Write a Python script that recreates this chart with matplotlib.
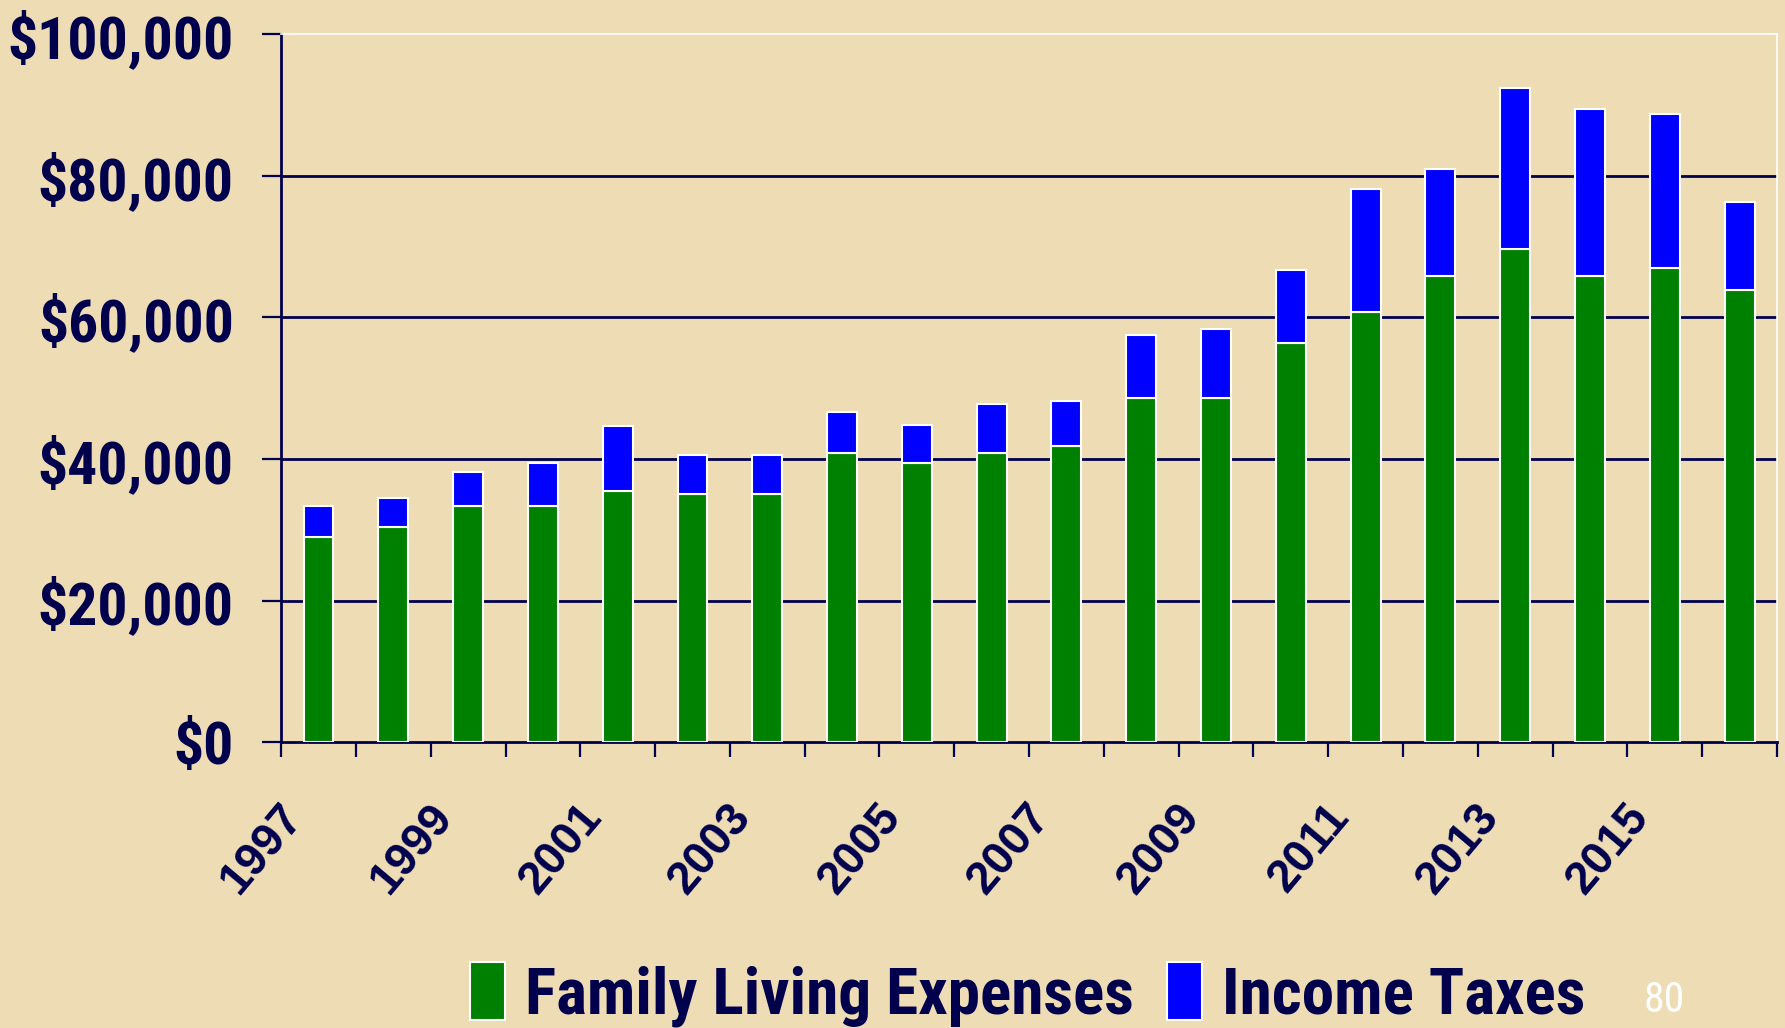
import matplotlib
matplotlib.use("Agg")
import matplotlib.pyplot as plt
import matplotlib.transforms as mtransforms
from matplotlib import font_manager
from matplotlib.patches import Patch
from matplotlib.ticker import FuncFormatter, FixedLocator, NullFormatter

# yearly household figures, dollars
years = list(range(1997, 2017))
living = [29000, 30400, 33300, 33300, 35500, 35100, 35100, 40900, 39400, 40900,
          41900, 48600, 48600, 56400, 60800, 65900, 69600, 65900, 67000, 63800]
totals = [33400, 34500, 38200, 39500, 44700, 40600, 40600, 46600, 44800, 47800,
          48200, 57500, 58300, 66700, 78100, 81000, 92400, 89400, 88700, 76300]
taxes = [t - f for t, f in zip(totals, living)]
year_labels = [str(y) for y in years[::2]]
y_ticks = list(range(0, 100001, 20000))

NAVY = "#00004d"
BG = "#eedcb4"
GREEN = "#008000"
BLUE = "#0000ff"


def bold_narrow():
    # first condensed family that ships a real bold face
    faces = font_manager.fontManager.ttflist
    for fam in ("Liberation Sans Narrow", "Roboto Condensed", "Archivo Narrow",
                "PT Sans Narrow", "Fira Sans Condensed", "Barlow Condensed"):
        if any(f.name == fam and f.weight in (700, "bold") for f in faces):
            return fam
    return "Liberation Sans"


NARROW = bold_narrow()

fig = plt.figure(figsize=(17.85, 10.28), dpi=100, facecolor=BG)
ax = fig.add_axes([0.1575, 0.278, 0.8380, 0.6888])
ax.set_facecolor(BG)

x = list(range(len(years)))
ax.bar(x, living, width=0.40, color=GREEN, edgecolor="white", linewidth=1.5,
       zorder=3, label="Family Living Expenses")
ax.bar(x, taxes, width=0.40, bottom=living, color=BLUE, edgecolor="white",
       linewidth=1.5, zorder=3, label="Income Taxes")

ax.set_xlim(-0.5, len(years) - 0.5)
ax.set_ylim(0, 100000)
ax.set_yticks(y_ticks)
ax.yaxis.set_major_formatter(FuncFormatter(lambda v, p: f"${v:,.0f}"))
for v in y_ticks[1:-1]:
    ax.axhline(v, color=NAVY, linewidth=2.0, zorder=1)

# category boundary ticks, labels on every other category centre
ax.xaxis.set_major_locator(FixedLocator([i - 0.5 for i in range(len(years) + 1)]))
ax.xaxis.set_major_formatter(NullFormatter())
ax.xaxis.set_minor_locator(FixedLocator(x[::2]))
ax.set_xticklabels(year_labels, minor=True)
ax.tick_params(axis="x", which="major", direction="out", length=11, width=1.6, color=NAVY)
ax.tick_params(axis="x", which="minor", length=0, pad=49)
ax.tick_params(axis="y", direction="out", length=14, width=1.6, color=NAVY, pad=20)

for lab in ax.get_yticklabels():
    lab.set_fontfamily(NARROW)
    lab.set_fontweight("bold")
    lab.set_fontsize(43)
    lab.set_color(NAVY)

shift = mtransforms.ScaledTranslation(-24 / 100, 0, fig.dpi_scale_trans)
for lab in ax.get_xticklabels(minor=True):
    lab.set_fontfamily("Liberation Sans")
    lab.set_fontweight("bold")
    lab.set_fontsize(33)
    lab.set_color(NAVY)
    lab.set_rotation(50)
    lab.set_ha("right")
    lab.set_va("center")
    lab.set_rotation_mode("anchor")
    lab.set_transform(lab.get_transform() + shift)

for side in ("left", "bottom"):
    ax.spines[side].set_color(NAVY)
    ax.spines[side].set_linewidth(2.0)
for side in ("top", "right"):
    ax.spines[side].set_color("white")
    ax.spines[side].set_linewidth(1.2)

handles = [Patch(facecolor=GREEN, edgecolor="white", linewidth=1.5),
           Patch(facecolor=BLUE, edgecolor="white", linewidth=1.5)]
leg = fig.legend(handles, ["Family Living Expenses", "Income Taxes"],
                 loc="center", bbox_to_anchor=(0.5756, 0.033), ncol=2, frameon=False,
                 handlelength=0.55, handleheight=1.0, handletextpad=0.3, columnspacing=0.5,
                 prop={"family": NARROW, "weight": "bold", "size": 47})
for t in leg.get_texts():
    t.set_color(NAVY)

fig.text(0.921, 0.016, "80", color="white", fontsize=30, family=NARROW)

fig.savefig("out.png", dpi=100, facecolor=BG)
